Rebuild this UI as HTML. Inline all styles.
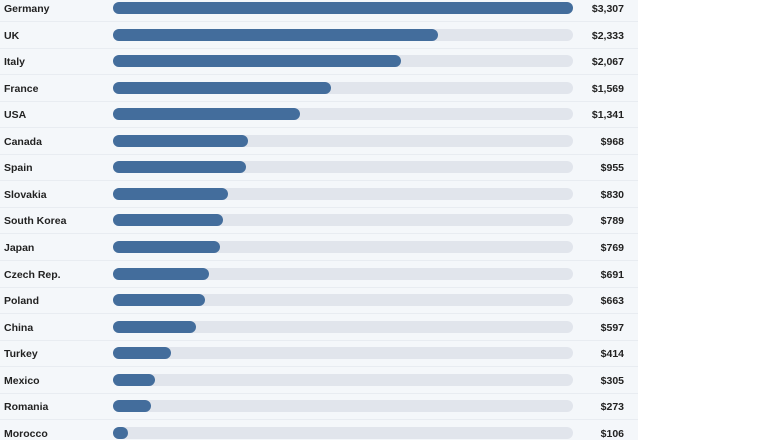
<!DOCTYPE html>
<html><head><style>
body{margin:0;width:782px;height:440px;background:#fff;overflow:hidden;font-family:"Liberation Sans",sans-serif;}
#p{position:absolute;left:0;top:0;width:638px;height:440px;background:#f4f7fa;overflow:hidden;}
.r{position:absolute;left:0;width:638px;height:26px;}
.l{position:absolute;left:4px;top:1px;line-height:16px;font-size:10.5px;font-weight:bold;color:#222;}
.t{position:absolute;left:113px;width:460px;height:12px;top:2px;border-radius:6px;background:#e1e5ec;}
.f{position:absolute;left:0;top:0;height:12px;border-radius:6px;background:#436d9c;}
.v{position:absolute;right:14px;top:1px;line-height:16px;font-size:10.5px;font-weight:bold;color:#222;}
.s{position:absolute;left:0;width:638px;height:1px;background:#e8ecf1;}
</style></head><body><div id="p"></div>
<script>
var d=[["Germany",3307],["UK",2333],["Italy",2067],["France",1569],["USA",1341],["Canada",968],["Spain",955],["Slovakia",830],["South Korea",789],["Japan",769],["Czech Rep.",691],["Poland",663],["China",597],["Turkey",414],["Mexico",305],["Romania",273],["Morocco",106]];
var h="";
d.forEach(function(e,i){var c=8+i*26.56;var w=Math.max(14,e[1]/3307*460);
h+='<div class="r" style="top:'+(c-8)+'px"><div class="l">'+e[0]+'</div><div class="t"><div class="f" style="width:'+w+'px"></div></div><div class="v">$'+e[1].toLocaleString("en-US")+'</div></div>';
h+='<div class="s" style="top:'+Math.round(c+13)+'px"></div>';});
document.getElementById("p").innerHTML=h;
</script></body></html>
